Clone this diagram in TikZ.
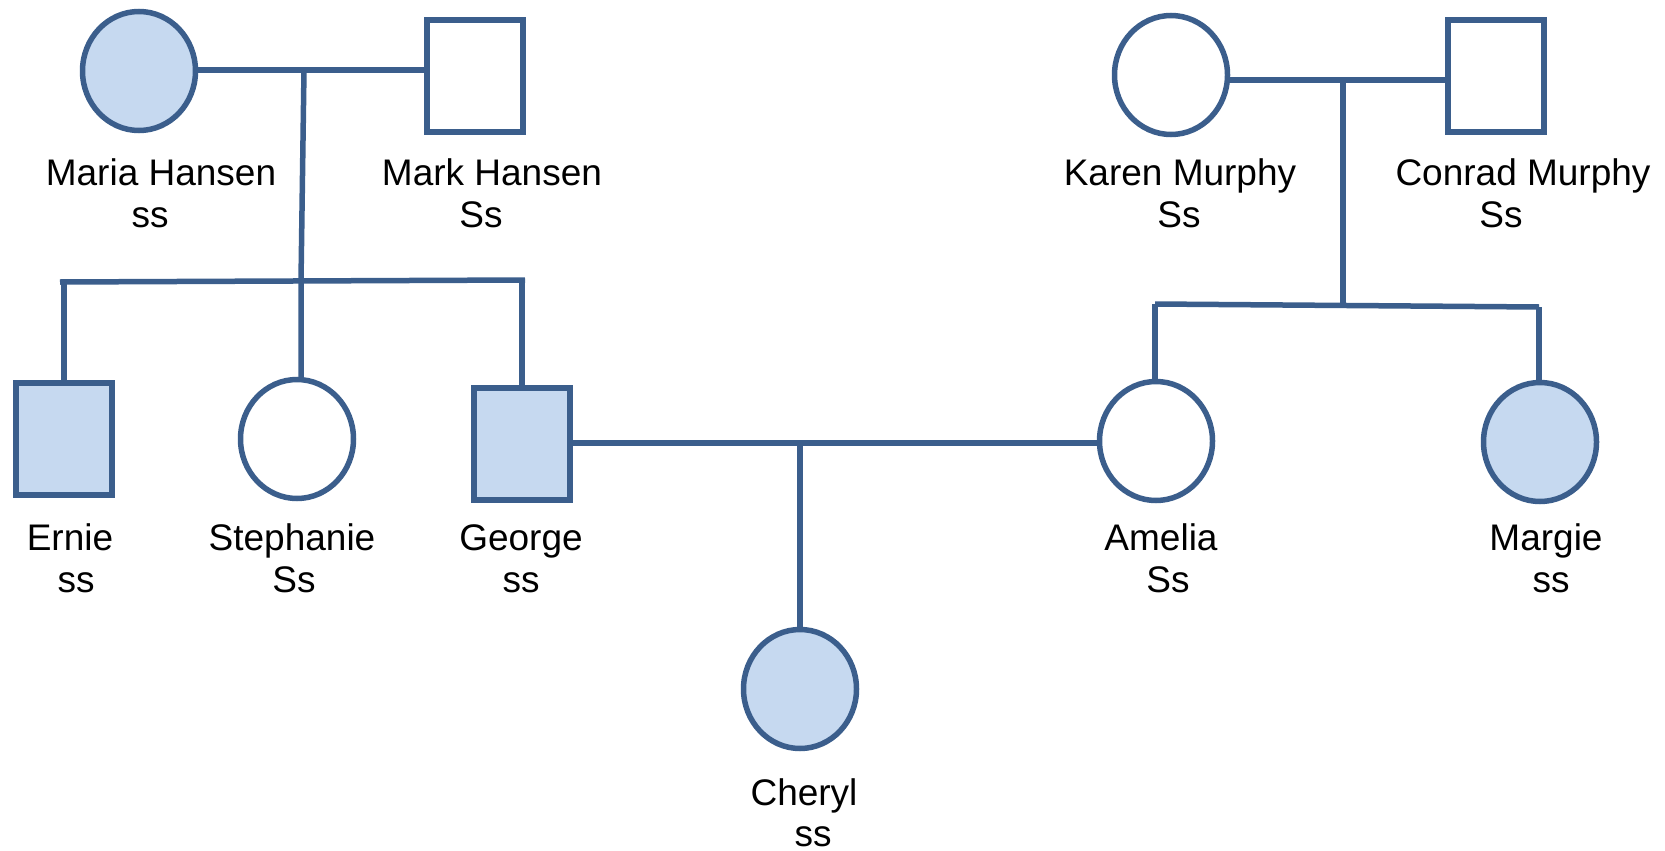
\documentclass[tikz,border=0pt]{standalone}
\usepackage{fontspec}
\setmainfont{Liberation Sans}
\usetikzlibrary{shapes.geometric}
\definecolor{pline}{HTML}{3B5E8C}
\definecolor{pfill}{HTML}{C6D9F0}
\begin{document}
\begin{tikzpicture}[x=1pt,y=-1pt,
  lw/.style={line width=5.5pt, draw=pline},
  female/.style={ellipse, lw, minimum width=113pt, minimum height=119pt, inner sep=0pt, outer sep=0pt, fill=white},
  male/.style={rectangle, lw, minimum width=96pt, minimum height=112pt, inner sep=0pt, outer sep=0pt, fill=white},
  affected/.style={fill=pfill},
  lbl/.style={anchor=base, inner sep=0pt, font=\fontsize{37}{44}\selectfont},
  conn/.style={lw}
]
\useasboundingbox (0,0) rectangle (1665,851);

% persons
\node[female, affected] (maria) at (139,71) {};
\node[male] (mark) at (475,76) {};
\node[female] (karen) at (1171,75) {};
\node[male] (conrad) at (1496,76) {};
\node[male, affected] (ernie) at (64,439) {};
\node[female] (steph) at (297,439) {};
\node[male, affected] (george) at (522,444) {};
\node[female] (amelia) at (1156,441) {};
\node[female, affected] (margie) at (1540,442) {};
\node[female, affected] (cheryl) at (800,689) {};

% junction coordinates
\coordinate (hm) at (304,70);
\coordinate (hs) at (301,281);
\coordinate (hsl) at (60,282);
\coordinate (hsr) at (525,280);
\coordinate (mm) at (1343,80);
\coordinate (ms) at (1343,306);
\coordinate (msl) at (1155,304);
\coordinate (msr) at (1539,307);
\coordinate (ga) at (800,443);

% Hansen family
\draw[conn] (maria.east |- hm) -- (hm -| mark.west);
\draw[conn] (hm) -- (hs) -- (hs |- steph.north);
\draw[conn] (hsl) -- (hsr);
\draw[conn] (ernie.north |- hsl) -- (ernie.north);
\draw[conn] (george.north |- hsr) -- (george.north);

% Murphy family
\draw[conn] (karen.east |- mm) -- (mm -| conrad.west);
\draw[conn] (mm) -- (ms);
\draw[conn] (msl) -- (msr);
\draw[conn] (msl) -- (msl |- amelia.north);
\draw[conn] (msr) -- (msr |- margie.north);

% George & Amelia
\draw[conn] (george.east |- ga) -- (ga -| amelia.west);
\draw[conn] (ga) -- (cheryl.north);

% labels
\node[lbl] (t1) at (161,185) {Maria Hansen};
\node[lbl] (g1) at (150,227) {ss};
\node[lbl] (t2) at (492,185) {Mark Hansen};
\node[lbl] (g2) at (481,227) {Ss};
\node[lbl] (t3) at (1180,185) {Karen Murphy};
\node[lbl] (g3) at (1179,227) {Ss};
\node[lbl] (t4) at (1523,185) {Conrad Murphy};
\node[lbl] (g4) at (1501,227) {Ss};
\node[lbl] (t5) at (70,550) {Ernie};
\node[lbl] (g5) at (76,592) {ss};
\node[lbl] (t6) at (292,550) {Stephanie};
\node[lbl] (g6) at (294,592) {Ss};
\node[lbl] (t7) at (521,550) {George};
\node[lbl] (g7) at (521,592) {ss};
\node[lbl] (t8) at (1161,550) {Amelia};
\node[lbl] (g8) at (1168,592) {Ss};
\node[lbl] (t9) at (1546,550) {Margie};
\node[lbl] (g9) at (1551,592) {ss};
\node[lbl] (t10) at (804,805) {Cheryl};
\node[lbl] (g10) at (813,846) {ss};
\end{tikzpicture}
\end{document}
